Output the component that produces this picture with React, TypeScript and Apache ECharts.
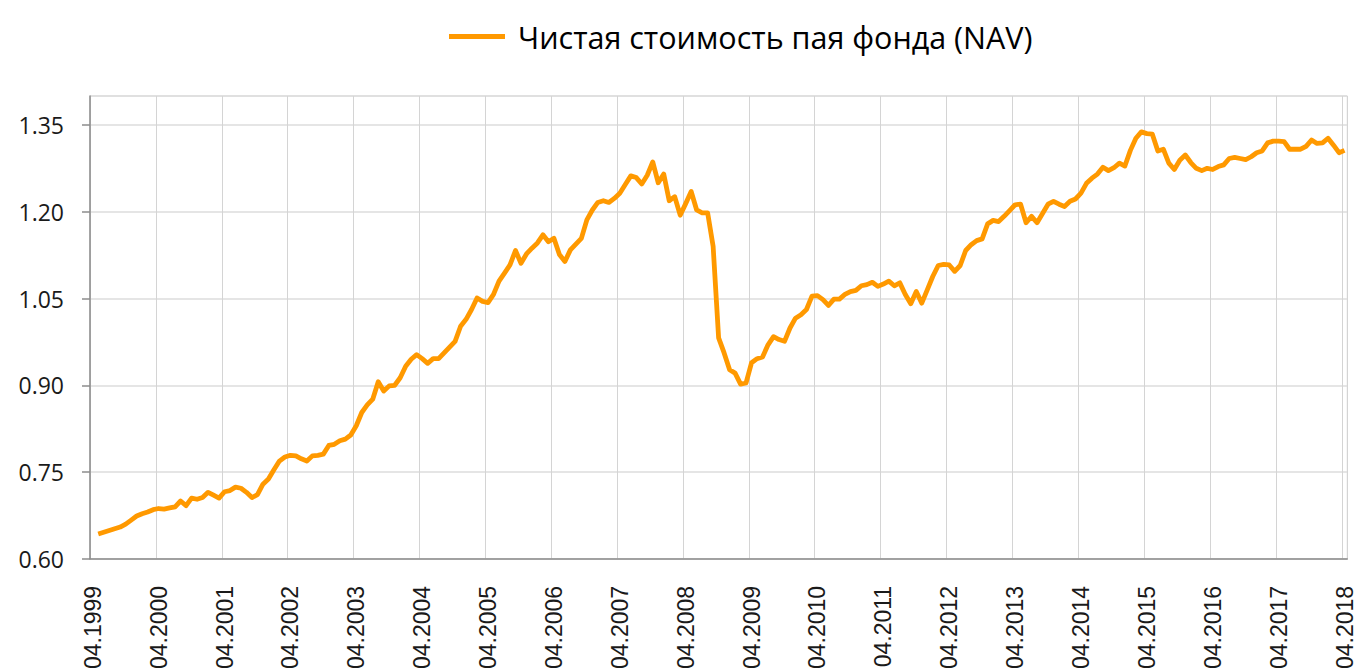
import React, { useEffect, useRef } from "react";
import * as echarts from "echarts";

// Monthly categories 04.1999 … 04.2018
const START_YEAR = 1999;
const START_MONTH = 4;
const MONTH_COUNT = 229;
const categories: string[] = [];
for (let k = 0; k < MONTH_COUNT; k++) {
  const m = ((START_MONTH - 1 + k) % 12) + 1;
  const y = START_YEAR + Math.floor((START_MONTH - 1 + k) / 12);
  categories.push(String(m).padStart(2, "0") + "." + y);
}

const seriesName = "Чистая стоимость пая фонда (NAV)";

// NAV values (first month has no point)
const navValues: (number | null)[] = [
  null,
  0.643, 0.646, 0.649, 0.652, 0.655, 0.660, 0.667, 0.674, 0.678, 0.681, 0.685, 0.687,
  0.686, 0.688, 0.690, 0.700, 0.692, 0.705, 0.703, 0.706, 0.715, 0.710, 0.705, 0.716,
  0.718, 0.724, 0.722, 0.715, 0.706, 0.711, 0.729, 0.738, 0.754, 0.769, 0.776, 0.779,
  0.778, 0.773, 0.769, 0.778, 0.779, 0.781, 0.796, 0.798, 0.804, 0.807, 0.814, 0.830,
  0.853, 0.866, 0.876, 0.906, 0.890, 0.899, 0.900, 0.913, 0.933, 0.945, 0.953, 0.946,
  0.938, 0.946, 0.946, 0.956, 0.966, 0.976, 1.002, 1.014, 1.031, 1.051, 1.045, 1.043,
  1.057, 1.080, 1.094, 1.108, 1.133, 1.111, 1.127, 1.137, 1.146, 1.160, 1.148, 1.154,
  1.126, 1.114, 1.134, 1.144, 1.154, 1.186, 1.203, 1.216, 1.219, 1.216, 1.223, 1.232,
  1.247, 1.262, 1.259, 1.248, 1.263, 1.286, 1.250, 1.265, 1.219, 1.226, 1.194, 1.214,
  1.235, 1.203, 1.198, 1.198, 1.140, 0.982, 0.956, 0.927, 0.921, 0.902, 0.904, 0.939,
  0.946, 0.949, 0.970, 0.984, 0.979, 0.976, 0.999, 1.016, 1.022, 1.031, 1.054, 1.055,
  1.048, 1.038, 1.049, 1.049, 1.057, 1.062, 1.064, 1.072, 1.074, 1.078, 1.071, 1.075,
  1.080, 1.072, 1.077, 1.057, 1.041, 1.062, 1.042, 1.065, 1.088, 1.107, 1.109, 1.108,
  1.097, 1.107, 1.133, 1.143, 1.150, 1.153, 1.179, 1.185, 1.183, 1.192, 1.202, 1.212,
  1.213, 1.181, 1.192, 1.181, 1.197, 1.213, 1.218, 1.213, 1.209, 1.218, 1.222, 1.232,
  1.249, 1.258, 1.265, 1.277, 1.271, 1.276, 1.284, 1.279, 1.306, 1.327, 1.338, 1.335,
  1.334, 1.305, 1.308, 1.284, 1.273, 1.289, 1.298, 1.285, 1.275, 1.271, 1.275, 1.273,
  1.278, 1.281, 1.292, 1.294, 1.292, 1.290, 1.295, 1.302, 1.305, 1.319, 1.322, 1.322,
  1.321, 1.308, 1.308, 1.308, 1.313, 1.324, 1.318, 1.319, 1.327, 1.315, 1.302, 1.306,
];

const Y_MIN = 0.6;
const Y_MAX = 1.4;
const Y_STEP = 0.15;

export default function App() {
  const ref = useRef<HTMLDivElement>(null);

  useEffect(() => {
    if (!ref.current) return;
    const chart = echarts.init(ref.current, undefined, { renderer: "svg" });
    const lineColor = "#FF9900";
    chart.setOption({
      animation: false,
      backgroundColor: "#ffffff",
      legend: {
        left: 444,
        top: 16,
        icon: "rect",
        itemWidth: 56,
        itemHeight: 5,
        data: [{ name: seriesName, itemStyle: { color: lineColor } }],
        textStyle: {
          fontFamily: "Open Sans",
          fontSize: 30.5,
          color: "#000000",
          padding: [0, 0, 0, 8],
        },
      },
      grid: {
        left: 90,
        right: 6,
        top: 96,
        bottom: 112,
        show: true,
        borderColor: "#d9d9d9",
        borderWidth: 1,
      },
      xAxis: {
        type: "category",
        data: categories,
        boundaryGap: true,
        axisLine: { lineStyle: { color: "#8c8c8c", width: 1.5 } },
        axisTick: {
          interval: 11,
          length: 7,
          lineStyle: { color: "#8c8c8c", width: 1.5 },
        },
        axisLabel: {
          interval: 11,
          rotate: 90,
          margin: 27,
          fontFamily: "Liberation Sans",
          fontSize: 23,
          color: "#1a1a1a",
        },
        splitLine: {
          show: true,
          interval: 11,
          lineStyle: { color: "#d4d4d4", width: 1 },
        },
      },
      yAxis: {
        type: "value",
        min: Y_MIN,
        max: Y_MAX,
        interval: Y_STEP,
        axisLine: { show: true, lineStyle: { color: "#8c8c8c", width: 1.5 } },
        axisTick: {
          show: true,
          length: 8,
          lineStyle: { color: "#8c8c8c", width: 1.5 },
        },
        axisLabel: {
          showMaxLabel: false,
          margin: 26,
          fontFamily: "Open Sans",
          fontSize: 23,
          color: "#1a1a1a",
          formatter: (v: number) => v.toFixed(2),
        },
        splitLine: { lineStyle: { color: "#dcdcdc", width: 1.5 } },
      },
      series: [
        {
          name: seriesName,
          type: "line",
          data: navValues,
          showSymbol: false,
          symbol: "none",
          connectNulls: false,
          lineStyle: { color: lineColor, width: 4.8, join: "round" },
          itemStyle: { color: lineColor },
        },
      ],
    });
    return () => chart.dispose();
  }, []);

  return (
    <div
      ref={ref}
      style={{ position: "fixed", left: 0, top: 0, width: 1356, height: 672 }}
    />
  );
}
